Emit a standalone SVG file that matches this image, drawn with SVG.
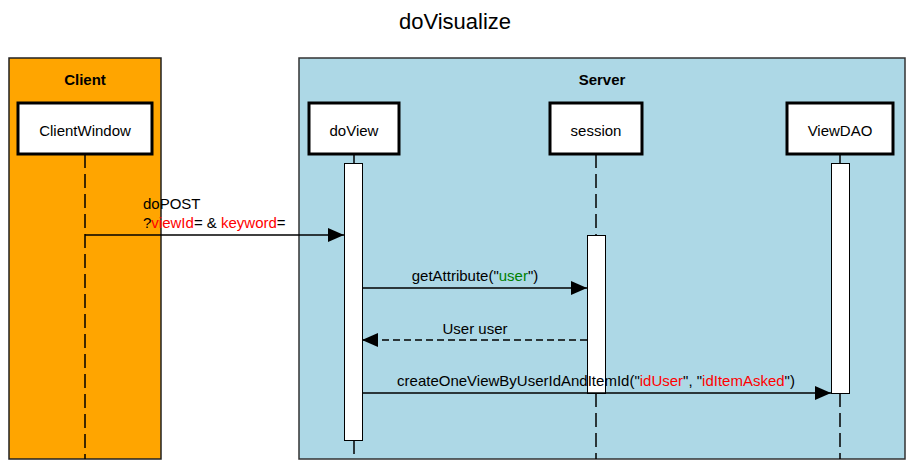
<svg xmlns="http://www.w3.org/2000/svg" width="911" height="468" viewBox="0 0 911 468">
<style>
text{font-family:"Liberation Sans",Arial,sans-serif;font-size:15px;fill:#000}
.title{font-size:22px}
.frame-title{font-weight:bold}
.part{fill:#fff;stroke:#000;stroke-width:3}
.act{fill:#fff;stroke:#000;stroke-width:1}
.life{stroke:#000;stroke-width:1.5;stroke-dasharray:14 6;fill:none}
.msg{stroke:#000;stroke-width:1.5;fill:none}
.ret{stroke:#000;stroke-width:1.5;stroke-dasharray:7 4;fill:none}
.red{fill:#ff0000}
.green{fill:#008000}
</style>
<defs>
<marker id="arr" markerWidth="16" markerHeight="14" refX="16" refY="7" orient="auto" markerUnits="userSpaceOnUse">
<path d="M0,0 L16,7 L0,14 Z" fill="#000"/>
</marker>
</defs>
<rect width="911" height="468" fill="#fff"/>
<text class="title" x="455" y="29" text-anchor="middle">doVisualize</text>

<g id="client-frame">
<rect x="9" y="58" width="152" height="401" fill="#FFA500" stroke="#222" stroke-width="1.5"/>
<text class="frame-title" x="85" y="85" text-anchor="middle">Client</text>
</g>
<g id="server-frame">
<rect x="299" y="58" width="606" height="401" fill="#ADD8E6" stroke="#333" stroke-width="1.5"/>
<text class="frame-title" x="602" y="85" text-anchor="middle">Server</text>
</g>

<g id="lifelines">
<line class="life" x1="85" y1="154" x2="85" y2="459"/>
<line class="msg" x1="354" y1="154" x2="354" y2="163"/>
<line class="life" x1="354" y1="440" x2="354" y2="459"/>
<line class="life" x1="596" y1="154" x2="596" y2="235"/>
<line class="life" x1="596" y1="393" x2="596" y2="459"/>
<line class="msg" x1="840" y1="154" x2="840" y2="163"/>
<line class="life" x1="840" y1="393" x2="840" y2="459"/>
</g>

<g id="ClientWindow">
<rect class="part" x="18" y="103" width="134" height="51"/>
<text x="85" y="136" text-anchor="middle">ClientWindow</text>
</g>
<g id="doView">
<rect class="part" x="309" y="103" width="90" height="51"/>
<text x="354" y="136" text-anchor="middle">doView</text>
<rect class="act" x="344.5" y="163.5" width="18" height="277"/>
</g>
<g id="session">
<rect class="part" x="550" y="103" width="92" height="51"/>
<text x="596" y="136" text-anchor="middle">session</text>
<rect class="act" x="587.5" y="235.5" width="18" height="158"/>
</g>
<g id="ViewDAO">
<rect class="part" x="787" y="103" width="106" height="51"/>
<text x="840" y="136" text-anchor="middle">ViewDAO</text>
<rect class="act" x="831.5" y="163.5" width="18" height="230"/>
</g>

<g id="connectors">
<line class="msg" x1="85" y1="235" x2="344" y2="235" marker-end="url(#arr)"/>
<text x="143" y="209">doPOST</text>
<text x="143" y="228">?<tspan class="red">viewId</tspan>= &amp; <tspan class="red">keyword</tspan>=</text>

<line class="msg" x1="362" y1="288" x2="587" y2="288" marker-end="url(#arr)"/>
<text x="475" y="281" text-anchor="middle">getAttribute("<tspan class="green">user</tspan>")</text>

<line class="ret" x1="587" y1="340" x2="362" y2="340" marker-end="url(#arr)"/>
<text x="475" y="334" text-anchor="middle">User user</text>

<line class="msg" x1="362" y1="393" x2="831" y2="393" marker-end="url(#arr)"/>
<text x="596" y="386" text-anchor="middle">createOneViewByUserIdAndItemId("<tspan class="red">idUser</tspan>", "<tspan class="red">idItemAsked</tspan>")</text>
</g>
</svg>
